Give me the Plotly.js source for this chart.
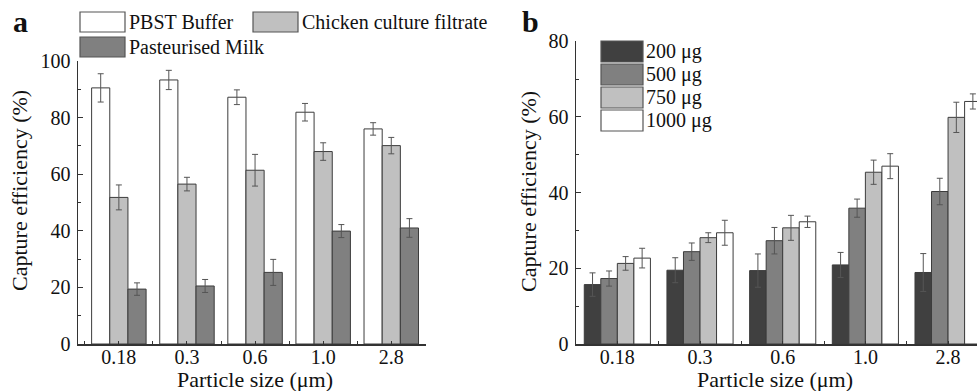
<!DOCTYPE html>
<html>
<head>
<meta charset="utf-8">
<script src="https://cdn.plot.ly/plotly-3.0.1.min.js"></script>
<style>html,body{margin:0;padding:0;overflow:hidden;background:#fff}</style>
</head>
<body>
<div id="chart" style="width:977px;height:391px"></div>
<script>
// ---- data ----
const sizes = ["0.18", "0.3", "0.6", "1.0", "2.8"];

// Panel a
const seriesA = ["PBST Buffer", "Chicken culture filtrate", "Pasteurised Milk"];
const pbst      = [90.5, 93.3, 87.2, 81.9, 76.0];
const pbstErr   = [5.0, 3.4, 2.6, 3.1, 2.2];
const chicken   = [51.8, 56.5, 61.4, 68.0, 70.1];
const chickenErr= [4.4, 2.4, 5.6, 3.1, 2.9];
const milk      = [19.4, 20.5, 25.3, 39.9, 41.0];
const milkErr   = [2.2, 2.3, 4.6, 2.3, 3.3];

// Panel b
const seriesB = ["200 μg", "500 μg", "750 μg", "1000 μg"];
const d200  = [15.7, 19.5, 19.4, 20.9, 18.9];
const e200  = [3.1, 3.3, 4.4, 3.3, 5.0];
const d500  = [17.3, 24.4, 27.3, 35.9, 40.3];
const e500  = [2.0, 2.3, 3.5, 2.4, 3.5];
const d750  = [21.3, 28.1, 30.7, 45.4, 59.9];
const e750  = [1.8, 1.3, 3.3, 3.2, 4.0];
const d1000 = [22.7, 29.4, 32.3, 47.0, 64.1];
const e1000 = [2.6, 3.3, 1.5, 3.3, 2.0];

// ---- helpers ----
const W = 977, H = 391;
const px = x => x / W;
const py = y => (H - y) / H;
const idx = sizes.map((s, i) => i);
const bounds = [-0.5].concat(idx.map(i => i + 0.5));
const FONT = "Liberation Serif";
const EDGE = "#3c3c3c";

function bar(name, y, err, color, xa, ya) {
  return {
    type: "bar", name: name, x: idx, y: y, xaxis: xa, yaxis: ya,
    showlegend: false,
    marker: {color: color, line: {color: EDGE, width: 1}},
    error_y: {type: "data", array: err, visible: true, color: "#555", thickness: 1, width: 3},
    hoverinfo: "y"
  };
}

const colA = ["#ffffff", "#c0c0c0", "#808080"];
const colB = ["#404040", "#808080", "#c0c0c0", "#ffffff"];

const data = [
  bar(seriesA[0], pbst, pbstErr, colA[0], "x", "y"),
  bar(seriesA[1], chicken, chickenErr, colA[1], "x", "y"),
  bar(seriesA[2], milk, milkErr, colA[2], "x", "y"),
  bar(seriesB[0], d200, e200, colB[0], "x2", "y2"),
  bar(seriesB[1], d500, e500, colB[1], "x2", "y2"),
  bar(seriesB[2], d750, e750, colB[2], "x2", "y2"),
  bar(seriesB[3], d1000, e1000, colB[3], "x2", "y2")
];

function xAxis(domain, range, anchor) {
  return {
    domain: domain, range: range, anchor: anchor,
    tickmode: "array", tickvals: idx, ticktext: sizes,
    ticks: "inside", ticklen: 3, tickwidth: 1, tickcolor: "#333",
    minor: {tickmode: "array", tickvals: bounds, ticks: "inside", ticklen: 3, tickwidth: 1, tickcolor: "#333"},
    showline: true, linecolor: "#333", linewidth: 1.5,
    showgrid: false, zeroline: false,
    tickfont: {family: FONT, size: 20, color: "#111"},
    ticklabelstandoff: -6,
    fixedrange: true
  };
}
function yAxis(domain, range, anchor) {
  return {
    domain: domain, range: range, anchor: anchor,
    tickmode: "linear", tick0: 0, dtick: 20,
    ticks: "inside", ticklen: 5, tickwidth: 1, tickcolor: "#333",
    minor: {dtick: 10, ticks: "inside", ticklen: 3, tickwidth: 1, tickcolor: "#333"},
    showline: true, linecolor: "#333", linewidth: 1.5,
    showgrid: false, zeroline: false,
    tickfont: {family: FONT, size: 20, color: "#111"},
    ticklabelstandoff: 2,
    fixedrange: true
  };
}

const shapes = [];
const annotations = [];
function legendItem(x0, y0, x1, y1, color, text, tx) {
  shapes.push({type: "rect", xref: "paper", yref: "paper",
    x0: px(x0), x1: px(x1), y0: py(y1), y1: py(y0),
    fillcolor: color, line: {color: "#555", width: 1.2}});
  annotations.push({xref: "paper", yref: "paper", x: px(tx), y: py((y0 + y1) / 2),
    xanchor: "left", yanchor: "middle", showarrow: false, text: text,
    font: {family: FONT, size: 20, color: "#111"}});
}
legendItem(80, 12, 125, 32, colA[0], seriesA[0], 127);
legendItem(253, 12, 298, 32, colA[1], seriesA[1], 300);
legendItem(80, 37, 125, 57, colA[2], seriesA[2], 127);

legendItem(601, 41, 643, 62, colB[0], seriesB[0], 644);
legendItem(601, 64, 643, 85, colB[1], seriesB[1], 644);
legendItem(601, 87, 643, 108, colB[2], seriesB[2], 644);
legendItem(601, 110, 643, 131, colB[3], seriesB[3], 644);

function label(text, x, y, size, bold, angle) {
  annotations.push({xref: "paper", yref: "paper", x: px(x), y: py(y),
    xanchor: "center", yanchor: "middle", showarrow: false,
    text: bold ? "<b>" + text + "</b>" : text, textangle: angle || 0,
    font: {family: FONT, size: size, color: "#111"}});
}
label("a", 20, 22, 30, true);
label("b", 530, 22, 30, true);
label("Capture efficiency (%)", 19, 191, 22, false, -90);
label("Capture efficiency (%)", 528, 192, 22, false, -90);
label("Particle size (μm)", 255, 379, 22, false);
label("Particle size (μm)", 775, 379, 22, false);

const layout = {
  width: W, height: H,
  margin: {l: 0, r: 0, t: 0, b: 0, pad: 0},
  paper_bgcolor: "#fff", plot_bgcolor: "#fff",
  barmode: "group", bargap: 0.2, bargroupgap: 0,
  showlegend: false,
  xaxis: xAxis([px(78), px(426)], [-0.6, 4.51], "y"),
  yaxis: yAxis([py(344), py(61)], [0, 100], "x"),
  xaxis2: xAxis([px(576), 1], [-0.5, 4.35], "y2"),
  yaxis2: yAxis([py(344), py(41.3)], [0, 80], "x2"),
  shapes: shapes,
  annotations: annotations,
  font: {family: FONT, color: "#111"}
};

Plotly.newPlot("chart", data, layout, {displayModeBar: false, staticPlot: true});
</script>
</body>
</html>
